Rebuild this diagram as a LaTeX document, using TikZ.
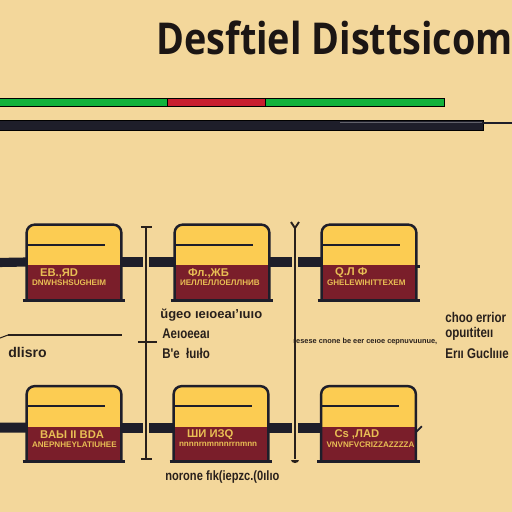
\documentclass[tikz,border=0pt]{standalone}
\usepackage{fontspec}
\setmainfont{Liberation Sans}
\newfontfamily\titlefont{Open Sans}[FakeStretch=0.86]
\newfontfamily\condfont{Liberation Sans}[FakeStretch=0.82]
\usetikzlibrary{calc}

\definecolor{paper}{RGB}{243,215,155}
\definecolor{boxyellow}{RGB}{252,204,82}
\definecolor{boxred}{RGB}{122,30,42}
\definecolor{pipe}{RGB}{30,30,42}
\definecolor{ink}{RGB}{40,32,28}
\definecolor{barGreen}{RGB}{18,178,60}
\definecolor{barRed}{RGB}{200,30,46}
\definecolor{boxtext}{RGB}{232,190,84}

\begin{document}
\begin{tikzpicture}[x=0.02cm,y=-0.02cm,
    box/.style={minimum width=1.88cm,minimum height=1.48cm,inner sep=0pt},
    pipeline/.style={draw=pipe,line width=5.2pt},
    rail/.style={draw=ink,line width=1.1pt},
    boxtxt/.style={text=boxtext,inner sep=0pt,anchor=west,font=\bfseries\fontsize{6.4}{7}\selectfont},
    boxsmall/.style={boxtxt,font=\bfseries\fontsize{4.6}{5}\selectfont},
    midtxt/.style={text=ink,inner sep=0pt,anchor=west,font=\condfont\bfseries\fontsize{8}{9}\selectfont}]

    % 背景
    \fill[paper] (0,0) rectangle (512,512);
    \useasboundingbox (0,0) rectangle (512,512);
    \clip (0,0) rectangle (512,512);

    % 标题
    \node[anchor=base west,inner sep=0pt,text=ink!70!black,font=\titlefont\bfseries\fontsize{25}{30}\selectfont] (title) at (156,54) {Desftiel Disttsicom};

    % 顶部色条
    \draw[black,line width=0.5pt,fill=barGreen] (-2,98) rectangle (167,106);
    \draw[black,line width=0.5pt,fill=barRed] (167,98) rectangle (265,106);
    \draw[black,line width=0.5pt,fill=barGreen] (265,98) rectangle (444,106);
    \draw[black,line width=0.4pt,fill=pipe] (-2,120) rectangle (483,130);
    \draw[pipe!70!white,line width=0.4pt] (340,122.5) -- (482,122.5);
    \coordinate (w1) at (483,123);
    \coordinate (w2) at (514,123);
    \draw[pipe,line width=0.6pt] (w1) -- (w2);

    % 方框
    \node[box] (b11) at (74,262) {};
    \node[box] (b12) at (222,262) {};
    \node[box] (b13) at (369,262) {};
    \node[box] (b21) at (74,423.5) {};
    \node[box] (b22) at (221,423.5) {};
    \node[box] (b23) at (368.5,423.5) {};

    % 管道
    \coordinate (p1) at (-2,262.5);
    \coordinate (p2) at (-2,427.5);
    \draw[pipeline] (p1) -- (b11.west);
    \draw[pipeline] (b11.east) -- (b12.west);
    \draw[pipeline] (b12.east) -- (b13.west);
    \draw[pipe,line width=1.5pt] ([yshift=-2.6pt]b13.east) -- +(4,0);
    \draw[pipeline,line width=5.7pt] (p2) -- ([yshift=-2.3pt]b21.west);
    \draw[pipeline,line width=5.7pt] ([yshift=-2.3pt]b21.east) -- ([yshift=-2.3pt]b22.west);
    \draw[pipeline,line width=5.7pt] ([yshift=-2.3pt]b22.east) -- ([yshift=-2.3pt]b23.west);
    \draw[pipe,line width=1pt] ([yshift=-5pt]b23.east) -- +(6,-6);

    \foreach \b in {b11,b12,b13,b21,b22,b23}{
        \fill[boxyellow] (\b.south west) [rounded corners=4.5pt] -- (\b.north west) -- (\b.north east) [sharp corners] -- (\b.south east) -- cycle;
        \fill[boxred] ($(\b.south west)+(0,-34)$) rectangle (\b.south east);
        \draw[pipe,line width=1.3pt] ($(\b.north west)+(0,20)$) -- +(78,0);
        \draw[pipe,line width=1.4pt] (\b.south west) [rounded corners=4.5pt] -- (\b.north west) -- (\b.north east) [sharp corners] -- (\b.south east);
        \draw[pipe,line width=1.8pt] ($(\b.south west)+(-4,1)$) -- ($(\b.south east)+(4,1)$);
    }

    % 方框文字
    \foreach \b/\ta/\tb in {b11/{EB.,ЯD}/{DNWHSHSUGHEIM}, b12/{Фл.,ЖБ}/{ИЕЛЛЕЛЛОЕЛЛНИВ}, b13/{Q.Л Ф}/{GHELEWIHITTEXEM},
                            b21/{BAЫ II BDA}/{ANEPNHEYLATIUHEE}, b22/{ШИ  ИЗQ}/{nnnnrnmnnnrrnmnn}, b23/{Cs ,ЛAD}/{VNVNFVCRIZZAZZZZA}}{
        \node[boxtxt] (\b-a) at ($(\b.west)+(13,11)$) {\ta};
        \node[boxsmall] (\b-b) at ($(\b.west)+(5,21)$) {\tb};
    }

    % 竖线
    \coordinate (v1a) at (146,227);
    \coordinate (v1b) at (146,459);
    \coordinate (v2a) at (295,228);
    \coordinate (v2b) at (295,459);
    \draw[paper,line width=3pt] (v1a) -- (v1b);
    \draw[paper,line width=3pt] (v2a) -- (v2b);
    \draw[rail] (v1a) -- (v1b);
    \draw[rail] (v2a) -- (v2b);
    \draw[rail] ($(v1a)+(-5,0)$) -- ($(v1a)+(6,0)$);
    \draw[rail] ($(v1b)+(-5,0)$) -- ($(v1b)+(6,0)$);
    \draw[rail] ($(v2a)+(-4,-6)$) -- (v2a) -- ($(v2a)+(4,-6)$);
    \fill[ink] ($(v2b)+(-4,1)$) arc (180:360:4 and -3) -- cycle;

    % 中间横线
    \coordinate (h1) at (0,338);
    \coordinate (h2) at (8,335);
    \coordinate (h3) at (122,335);
    \draw[ink,line width=0.6pt] (h1) -- (h2);
    \draw[ink,line width=1.5pt] (h2) -- (h3);
    \draw[ink,line width=0.9pt] ($(v1a)!0.5!(v1b)+(-8,-1)$) -- +(19,0);

    % 说明文字
    \node[midtxt,font=\bfseries\fontsize{8}{9}\selectfont] (l1) at (8,352) {dlisro};
    \node[midtxt,font=\bfseries\fontsize{7.4}{8}\selectfont] (m1) at (160,315) {ŭgeo ıeıoeaı'ıuıo};
    \node[midtxt] (m2) at (162,334) {Aeıoeeaı};
    \node[midtxt] (m3) at (162,353) {B'e \ łuıło};
    \node[midtxt,font=\bfseries\fontsize{4.2}{5}\selectfont] (d1) at (293,342) {resese cnone be eer ceıoe cepnuvuunue,};
    \node[midtxt] (r1) at (445,317) {choo errior};
    \node[midtxt] (r2) at (445,334) {opuıtiteıı};
    \node[midtxt] (r3) at (445,353) {Erıı Guclıııe};
    \node[midtxt,font=\condfont\bfseries\fontsize{7.7}{8}\selectfont] (bt) at (165,477) {norone fık(iepzc.(0ılıo};
\end{tikzpicture}
\end{document}
